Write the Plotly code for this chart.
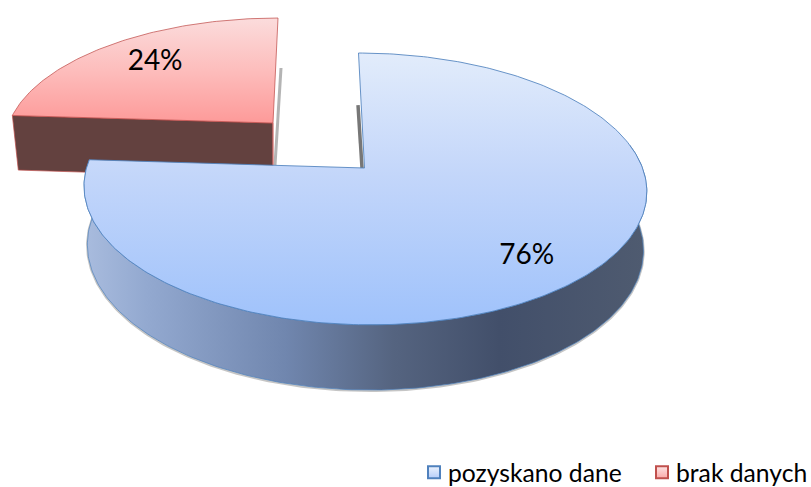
import numpy as np
import plotly.graph_objects as go

# ---- data ----
labels = ["pozyskano dane", "brak danych"]
values = [76, 24]
label_texts = ["76%", "24%"]

W, H = 811, 487
C = 0.154  # perspective


def project(t_deg, r, cx, b, a, A, skew):
    t = np.radians(t_deg)
    u, v = r * np.sin(t), r * np.cos(t)
    d = 1 + C * v
    return cx + A * u / d + skew * v, (a * v + b) / d


BLUE_TOP = dict(cx=364.5, b=168.0, a=-106.8, A=278.0, skew=-6.0)
BLUE_BOT = dict(cx=364.5, b=225.6, a=-104.4, A=274.7, skew=-6.0)
RED_TOP = dict(cx=273.0, b=123.0, a=-102.2, A=264.0, skew=5.0)
RED_BOT = dict(cx=275.0, b=178.0, a=-100.0, A=260.0, skew=5.0)

split = values[0] / sum(values) * 360.0  # clockwise from 12 o'clock
fig = go.Figure()


def poly(xs, ys, **kw):
    fig.add_trace(go.Scatter(x=xs, y=ys, mode="lines", showlegend=False,
                             hoverinfo="skip", **kw))


# ---- red (exploded) slice ----
t_red = np.linspace(split, 360, 90)
x0, y0 = project(split, 1, **RED_TOP)
x1, y1 = project(split, 1, **RED_BOT)
ax0, ay0 = project(0, 0, **RED_TOP)
ax1, ay1 = project(0, 0, **RED_BOT)
tipx, tipy = project(360, 1, **RED_TOP)
# soft shadow beside the cut
poly([tipx + 3, ax0 + 2], [tipy + 50, ay1 - 13], line=dict(color="rgba(130,130,130,0.6)", width=3))
# cut wall
poly([x0, ax0, ax0, x1, x0], [y0, ay0, ay1, y1, y0], fill="toself", fillcolor="#63413f",
     line=dict(color="rgba(192,80,77,0.7)", width=1))
# top
xr, yr = project(t_red, 1, **RED_TOP)
poly(np.r_[ax0, xr, ax0], np.r_[ay0, yr, ay0], fill="toself",
     fillgradient=dict(type="vertical", start=tipy, stop=ay0,
                       colorscale=[[0, "#fbdcdc"], [0.5, "#fdbdbc"], [1, "#fd9a99"]]),
     line=dict(color="rgba(192,80,77,0.75)", width=1))
poly([ax0, ax0], [ay0, ay1 - 13], line=dict(color="rgba(225,130,130,0.9)", width=1))

# ---- blue slice ----
t_wall = np.linspace(split, 80, 220)
xt, yt = project(t_wall, 1, **BLUE_TOP)
xb, yb = project(t_wall, 1, **BLUE_BOT)
# shadow under the wall
poly(xb, yb + 0.8, line=dict(color="rgba(110,110,110,0.4)", width=2.5))
# wall
poly(np.r_[xt, xb[::-1], xt[0]], np.r_[yt, yb[::-1], yt[0]], fill="toself",
     fillgradient=dict(type="horizontal", start=84, stop=646,
                       colorscale=[[0, "#a9bcde"], [0.11, "#93a9d0"], [0.36, "#7086ae"],
                                   [0.55, "#556480"], [0.74, "#424f6a"], [1, "#4f5b70"]]),
     line=dict(color="rgba(79,129,189,0.7)", width=1))
# inner edge of the cut
sx, sy = project(0, 1, **BLUE_BOT)
bx, by = project(0, 0, **BLUE_TOP)
poly([sx - 0.5, bx - 2.5], [sy, by], line=dict(color="rgba(85,85,85,0.8)", width=3.5))
# top
t_blue = np.linspace(0, split, 300)
xb2, yb2 = project(t_blue, 1, **BLUE_TOP)
poly(np.r_[bx, xb2, bx], np.r_[by, yb2, by], fill="toself",
     fillgradient=dict(type="vertical", start=53, stop=325,
                       colorscale=[[0, "#e2ecfb"], [0.45, "#c3d6fa"], [1, "#9fc2fb"]]),
     line=dict(color="rgba(79,129,189,0.85)", width=1))

# ---- percentage labels ----
mid_blue = split / 2 + 3
mid_red = split + (360 - split) / 2 + 0.5
lx0, ly0 = project(mid_blue, 0.80, **BLUE_TOP)
lx1, ly1 = project(mid_red, 0.729, **RED_TOP)
fig.add_trace(go.Scatter(x=[lx0, lx1], y=[ly0, ly1], mode="text", text=label_texts,
                         textposition="middle center", showlegend=False, hoverinfo="skip",
                         textfont=dict(family="Lato", size=28, color="#000000")))

# ---- legend ----
for name, fill, edge, grad in [(labels[0], "#ebf2fd", "#4f81bd", "#b5cdf9"),
                               (labels[1], "#fde3e3", "#c0504d", "#fba9a8")]:
    fig.add_trace(go.Scatter(x=[None], y=[None], mode="markers", name=name,
                             marker=dict(symbol="square", size=14, color=fill,
                                         gradient=dict(type="vertical", color=grad),
                                         line=dict(color=edge, width=2))))

fig.update_layout(
    width=W, height=H, autosize=False,
    margin=dict(l=0, r=0, t=0, b=0, autoexpand=False),
    paper_bgcolor="white", plot_bgcolor="white",
    xaxis=dict(range=[0, W], visible=False, fixedrange=True),
    yaxis=dict(range=[H, 0], visible=False, fixedrange=True),
    legend=dict(orientation="h", x=408 / W, xanchor="left", y=-0.018, yanchor="bottom",
                entrywidth=183, entrywidthmode="pixels",
                font=dict(family="Lato", size=24.7, color="#000000"),
                bgcolor="rgba(0,0,0,0)", itemsizing="constant", traceorder="normal"),
)
fig.write_html("out.html", config={"displayModeBar": False},
               post_script="document.body.style.margin='0';document.documentElement.style.overflow='hidden';"
                           "document.querySelectorAll('.legendsymbols').forEach(function(g){"
                           "g.setAttribute('transform','translate(6,0)');});")
